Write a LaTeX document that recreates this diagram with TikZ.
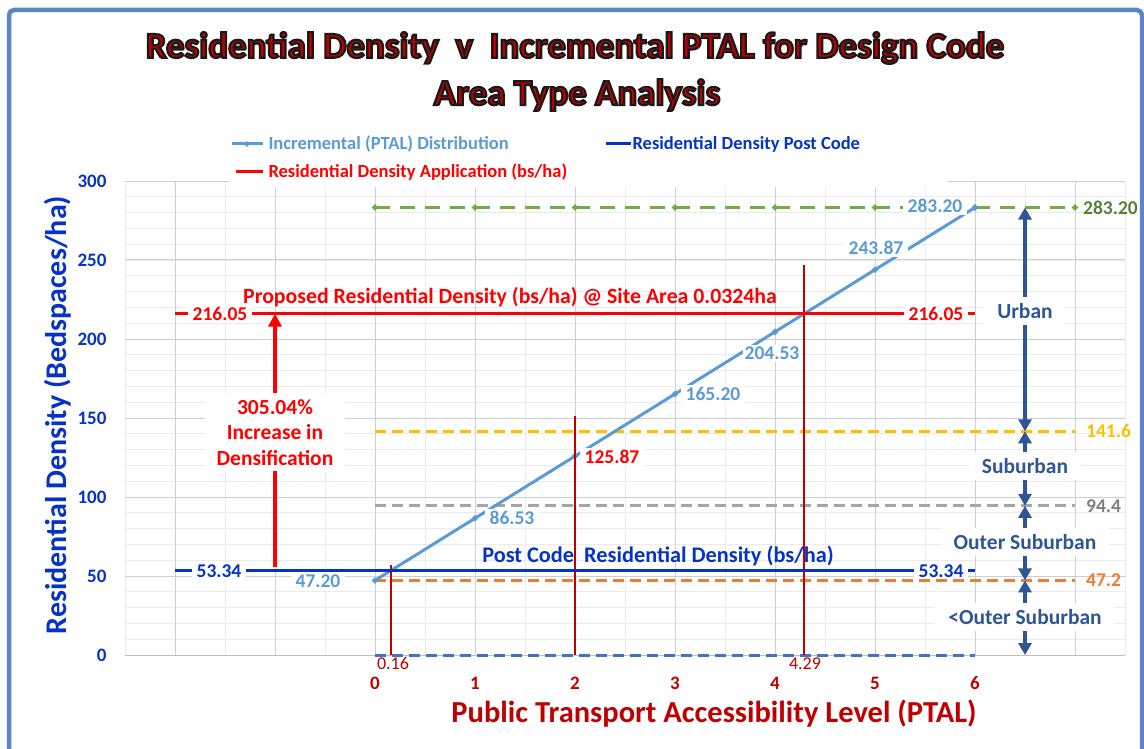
\documentclass[tikz,border=0pt]{standalone}
\usepackage{fontspec}
\setmainfont{Carlito}
\newfontfamily\titlefont[FakeBold=6]{Carlito Bold}
\usetikzlibrary{arrows.meta,shapes.geometric}

\definecolor{ptalblue}{HTML}{5B9BD5}
\definecolor{postblue}{HTML}{0533C8}
\definecolor{appred}{HTML}{FF0000}
\definecolor{darkred}{HTML}{C00000}
\definecolor{zoneblue}{HTML}{2F5597}
\definecolor{lvlgreen}{HTML}{70AD47}
\definecolor{lvlgreentext}{HTML}{548235}
\definecolor{lvlgold}{HTML}{FFC000}
\definecolor{lvlgray}{HTML}{A5A5A5}
\definecolor{lvlgraytext}{HTML}{7F7F7F}
\definecolor{lvlorange}{HTML}{ED7D31}
\definecolor{lvlblue}{HTML}{4472C4}
\definecolor{framecol}{HTML}{5A87C5}

\newcommand{\fsz}[1]{\fontsize{#1}{#1}\selectfont\bfseries}
% red letters with a dark outline
\newcommand{\outlinetext}[1]{\special{pdf:bcolor [0.75 0 0] [0.1 0.1 0.1]}#1\special{pdf:ecolor}}

\tikzset{
  gridminor/.style={draw=black!8, line width=0.8pt},
  gridmajor/.style={draw=black!19, line width=1pt},
  lvl/.style={line width=3pt, dash pattern=on 11pt off 6pt},
  ptalmark/.style={diamond, fill, inner sep=0pt, minimum size=7pt},
  ticklabel/.style={font=\fsz{19}},
  vallabel/.style={fill=white, inner xsep=5pt, inner ysep=2pt, font=\fsz{19.5}},
  zonelabel/.style={fill=white, text=zoneblue, inner xsep=13pt, inner ysep=6pt, font=\fsz{21.5}},
  zonearrow/.style={zoneblue, line width=4pt, {Triangle[length=12pt,width=13pt]}-{Triangle[length=12pt,width=13pt]}},
  titletext/.style={font=\fontsize{36.5}{36.5}\titlefont},
  legendtext/.style={anchor=west, font=\fsz{18.5}}
}

\begin{document}
\begin{tikzpicture}[x=1pt, y=-1pt]
\useasboundingbox (0,0) rectangle (1144,749);
\fill[white] (0,0) rectangle (1144,749);
\draw[framecol, line width=4.5pt, rounded corners=5pt] (9,10) rectangle (1142,790);

% title
\node[titletext] (title) at (575,48) {\scalebox{1.01}[1]{\outlinetext{Residential Density\ \ v\ \ Incremental PTAL for Design Code}}};
\node[titletext] (subtitle) at (577,95) {\scalebox{1.01}[1]{\outlinetext{Area Type Analysis}}};

% plot in data coordinates
\begin{scope}[shift={(375,655)}, x=100pt, y=1.58pt]
  \draw[gridminor, xstep=0.5, ystep=10] (-2.5,0) grid (7.5,300);
  \draw[gridmajor, xstep=1, ystep=50] (-2.5,0) grid (7.5,300);
  \draw[black!25, line width=1pt] (-2.5,0) -- (7.5,0);

  % area type levels
  \draw[lvl, lvlgreen, dash pattern=on 15pt off 10pt] (0,283.2) -- (7,283.2);
  \foreach \k in {0,...,7} \node[ptalmark, lvlgreen] (gm\k) at (\k,283.2) {};
  \draw[lvl, lvlgold] (0,141.6) -- (7,141.6);
  \draw[lvl, lvlgray] (0,94.4) -- (7,94.4);
  \draw[lvl, lvlorange] (0,47.2) -- (7,47.2);
  \draw[lvl, lvlblue] (0,0) -- (6,0);
  \node[vallabel, fill=none, anchor=west, inner xsep=1pt, text=lvlgreentext] (lg) at (7.07,283.2) {283.20};
  \node[vallabel, fill=none, anchor=west, inner xsep=1pt, text=lvlgold] (lgo) at (7.1,141.6) {141.6};
  \node[vallabel, fill=none, anchor=west, inner xsep=1pt, text=lvlgraytext] (lgr) at (7.1,94.4) {94.4};
  \node[vallabel, fill=none, anchor=west, inner xsep=1pt, text=lvlorange] (lor) at (7.1,47.2) {47.2};

  % incremental PTAL distribution
  \draw[ptalblue, line width=3pt] (0,47.2) -- (6,283.2);
  \foreach \k in {0,...,6} \node[ptalmark, ptalblue] (pm\k) at (\k,{47.2+39.333*\k}) {};

  % PTAL markers
  \draw[darkred, line width=1.8pt] (0.16,0) -- (0.16,57);
  \draw[darkred, line width=1.8pt] (2,0) -- (2,151);
  \draw[darkred, line width=1.8pt] (4.29,0) -- (4.29,247);
  \node[text=darkred, font=\fontsize{18}{18}\selectfont] (p016) at (0.18,-5.5) {0.16};
  \node[text=darkred, font=\fontsize{18}{18}\selectfont] (p429) at (4.30,-5.5) {4.29};

  % proposed and post code densities
  \draw[appred, line width=3pt] (-2,216.05) -- (6,216.05);
  \draw[postblue, line width=3pt] (-2,53.34) -- (6,53.34);
  \node[text=appred, font=\fsz{21.8}] (proposed) at (1.35,226.5) {Proposed Residential Density (bs/ha) @ Site Area 0.0324ha};
  \node[text=postblue, font=\fsz{22.3}] (postcode) at (2.83,62.5) {Post Code\ \ Residential Density (bs/ha)};
  \node[vallabel, text=appred] (app-l) at (-1.55,216.05) {216.05};
  \node[vallabel, text=appred] (app-r) at (5.61,216.05) {216.05};
  \node[vallabel, text=postblue] (post-l) at (-1.56,53.34) {53.34};
  \node[vallabel, text=postblue] (post-r) at (5.66,53.34) {53.34};

  % PTAL value labels
  \node[vallabel, text=ptalblue] (v0) at (-0.57,47) {47.20};
  \node[vallabel, text=ptalblue] (v1) at (1.37,86.7) {86.53};
  \node[vallabel, text=appred] (v2) at (2.37,125.3) {125.87};
  \node[vallabel, text=ptalblue] (v3) at (3.38,165.2) {165.20};
  \node[vallabel, text=ptalblue, inner xsep=1.5pt] (v4) at (3.97,191) {204.53};
  \node[vallabel, text=ptalblue] (v5) at (5.01,257.6) {243.87};
  \node[vallabel, text=ptalblue] (v6) at (5.6,284) {283.20};

  % densification arrow
  \coordinate (incr-b) at (-1,55.5);
  \coordinate (incr-t) at (-1,216.05);
  \draw[appred, line width=4pt, -{Triangle[length=13pt,width=13pt]}] (incr-b) -- (incr-t);
  \node[fill=white, text=appred, align=center, inner xsep=12pt, inner ysep=6pt,
        font=\fontsize{21.5}{25.5}\selectfont\bfseries] (incr) at (-1,141)
        {305.04\%\\Increase in\\Densification};

  % area type arrows
  \coordinate (z0) at (6.5,0);
  \coordinate (z1) at (6.5,47.2);
  \coordinate (z2) at (6.5,94.4);
  \coordinate (z3) at (6.5,141.6);
  \coordinate (z4) at (6.5,283.2);
  \draw[zonearrow] (z4) -- (z3);
  \draw[zonearrow] (z3) -- (z2);
  \draw[zonearrow] (z2) -- (z1);
  \draw[zonearrow] (z1) -- (z0);
  \node[zonelabel] (urban) at (6.5,217.7) {Urban};
  \node[zonelabel] (suburban) at (6.5,119.6) {Suburban};
  \node[zonelabel] (outer) at (6.5,71.5) {Outer Suburban};
  \node[zonelabel] (belowouter) at (6.5,24) {<Outer Suburban};

  % axes ticks
  \foreach \v in {0,50,...,300} \node[ticklabel, text=postblue, anchor=east] (yt\v) at (-2.65,\v) {\v};
  \foreach \v in {0,...,6} \node[ticklabel, text=darkred] (xt\v) at (\v,-17.7) {\v};
\end{scope}

% legend
\fill[white] (229,128) rectangle (948,187);
\draw[ptalblue, line width=3pt] (232,144) -- (263,144);
\node[ptalmark, ptalblue, minimum size=6pt] (legm) at (247,144) {};
\node[legendtext, text=ptalblue] (leg1) at (265,144) {Incremental (PTAL) Distribution};
\draw[postblue, line width=3pt] (606,144) -- (631,144);
\node[legendtext, text=postblue] (leg2) at (629,144) {Residential Density Post Code};
\draw[appred, line width=3pt] (236,172) -- (263,172);
\node[legendtext, text=appred] (leg3) at (265,172) {Residential Density Application (bs/ha)};

% axis titles
\node[text=postblue, rotate=90, font=\fsz{30}] (ytitle) at (58,415) {Residential Density (Bedspaces/ha)};
\node[text=darkred, font=\fsz{30.5}] (xtitle) at (714,714) {Public Transport Accessibility Level (PTAL)};
\end{tikzpicture}
\end{document}
